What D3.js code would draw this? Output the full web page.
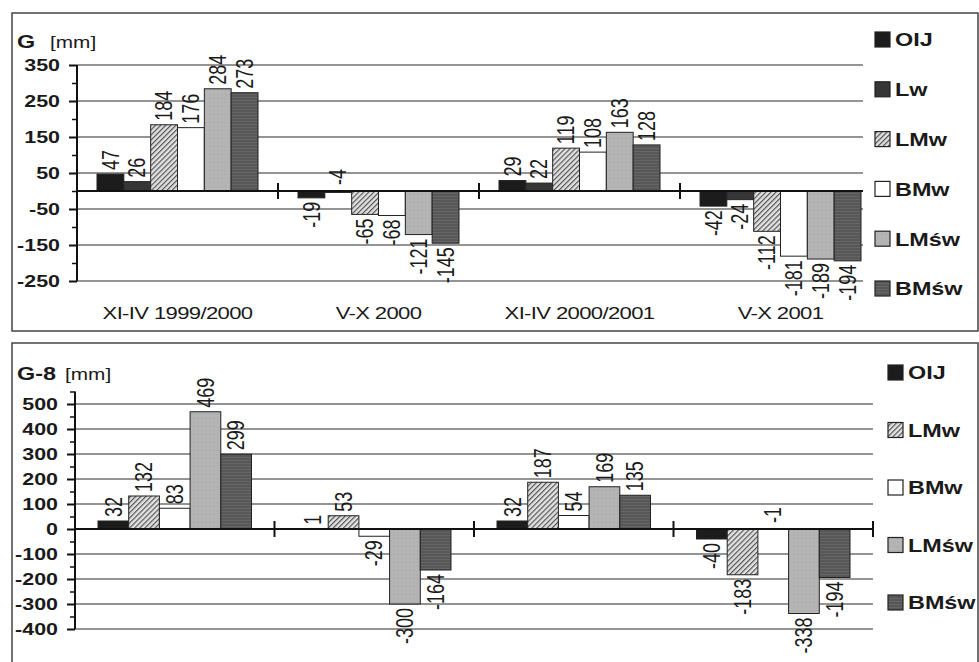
<!DOCTYPE html>
<html lang="pl">
<head>
<meta charset="UTF-8">
<title>G / G-8</title>
<script src="https://cdn.jsdelivr.net/npm/d3@7"></script>
<style>
    body { margin: 0; background: #fff; }
    svg text { font-family: "Liberation Sans", Arial, sans-serif; fill: #1a1a1a; }
    .tick text { font-size: 16.5px; font-weight: bold; }
    .lbl { font-size: 18px; }
    .cat { font-size: 17px; letter-spacing: -0.5px; }
    .leg { font-size: 18px; font-weight: bold; }
</style>
</head>
<body>
<svg id="chart" width="979" height="662"></svg>
<script>
    // kategorie (półrocza)
    const categories = ["XI-IV 1999/2000", "V-X 2000", "XI-IV 2000/2001", "V-X 2001"];

    // wykres G
    const seriesG = ["OIJ", "Lw", "LMw", "BMw", "LMśw", "BMśw"];
    const valuesG = [
        [47, -19, 29, -42],      // OIJ
        [26, -4, 22, -24],       // Lw
        [184, -65, 119, -112],   // LMw
        [176, -68, 108, -181],   // BMw
        [284, -121, 163, -189],  // LMśw
        [273, -145, 128, -194]   // BMśw
    ];
    const ticksG = [350, 250, 150, 50, -50, -150, -250];
    const minorG = [300, 200, 100, 0, -100, -200];

    // wykres G-8
    const seriesG8 = ["OIJ", "LMw", "BMw", "LMśw", "BMśw"];
    const valuesG8 = [
        [32, 1, 32, -40],        // OIJ
        [132, 53, 187, -183],    // LMw
        [83, -29, 54, -1],       // BMw
        [469, -300, 169, -338],  // LMśw
        [299, -164, 135, -194]   // BMśw
    ];
    const ticksG8 = [500, 400, 300, 200, 100, 0, -100, -200, -300, -400];
    const minorG8 = [550, 450, 350, 250, 150, 50, -50, -150, -250, -350];

    const SX = 1.3; // skan jest rozciągnięty w poziomie

    const fills = {
        "OIJ": "#1c1c1c",
        "Lw": "#363636",
        "LMw": "url(#hatch)",
        "BMw": "#ffffff",
        "LMśw": "url(#light)",
        "BMśw": "url(#dark)"
    };

    const svg = d3.select('#chart');
    const defs = svg.append('defs');

    let hatch = defs.append('pattern')
        .attr('id', 'hatch')
        .attr('patternUnits', 'userSpaceOnUse')
        .attr('width', 3.6).attr('height', 10)
        .attr('patternTransform', 'rotate(45)');
    hatch.append('rect').attr('width', 3.6).attr('height', 10).attr('fill', '#e2e2e2');
    hatch.append('line').attr('x1', 0.6).attr('x2', 0.6).attr('y1', 0).attr('y2', 10)
        .attr('stroke', '#555').attr('stroke-width', 1.2);

    let light = defs.append('pattern')
        .attr('id', 'light')
        .attr('patternUnits', 'userSpaceOnUse')
        .attr('width', 4).attr('height', 4);
    light.append('rect').attr('width', 4).attr('height', 4).attr('fill', '#b4b4b4');
    light.append('rect').attr('x', 1).attr('y', 2).attr('width', 1).attr('height', 1).attr('fill', '#a6a6a6');

    let dark = defs.append('pattern')
        .attr('id', 'dark')
        .attr('patternUnits', 'userSpaceOnUse')
        .attr('width', 4).attr('height', 3);
    dark.append('rect').attr('width', 4).attr('height', 3).attr('fill', '#575757');
    dark.append('line').attr('x1', 0).attr('x2', 4).attr('y1', 1.5).attr('y2', 1.5)
        .attr('stroke', '#696969').attr('stroke-width', 0.8);

    function stretched(g, x, y, txt, cls, anchor) {
        return g.append('text')
            .attr('class', cls)
            .attr('transform', 'translate(' + x + ',' + y + ') scale(' + SX + ',1)')
            .attr('text-anchor', anchor || 'start')
            .text(txt);
    }

    function drawPanel(p) {
        let g = svg.append('g');

        g.append('rect')
            .attr('x', p.box[0]).attr('y', p.box[1])
            .attr('width', p.box[2]).attr('height', p.box[3])
            .attr('fill', 'none').attr('stroke', '#444').attr('stroke-width', 1.5);

        // tytuł
        stretched(g, 17, p.titleY, p.title, '', 'start')
            .style('font-size', '18px').style('font-weight', 'bold');
        stretched(g, p.unitX, p.titleY, '[mm]', '', 'start')
            .style('font-size', '16px');

        let x0 = d3.scaleBand()
            .domain(categories)
            .range([p.left, p.left + p.band * 4]);

        let x1 = d3.scaleBand()
            .domain(p.series)
            .range([p.pad, p.band - p.pad]);

        let y = d3.scaleLinear()
            .domain(p.domain)
            .range([p.bottom, p.top]);

        // linie siatki
        g.selectAll('.grid')
            .data(p.ticks.filter(d => d !== 0))
            .enter().append('line')
            .attr('x1', p.left).attr('x2', p.gridEnd)
            .attr('y1', d => y(d)).attr('y2', d => y(d))
            .attr('stroke', '#2a2a2a').attr('stroke-width', 1.2);

        // słupki
        let rows = [];
        p.series.forEach((s, i) => {
            categories.forEach((c, j) => {
                rows.push({ s: s, c: c, v: p.values[i][j] });
            });
        });

        g.selectAll('.bar')
            .data(rows)
            .enter().append('rect')
            .attr('x', d => x0(d.c) + x1(d.s))
            .attr('y', d => y(Math.max(0, d.v)))
            .attr('width', x1.bandwidth())
            .attr('height', d => Math.abs(y(d.v) - y(0)))
            .attr('fill', d => fills[d.s])
            .attr('stroke', '#222')
            .attr('stroke-width', 1);

        // etykiety wartości
        g.selectAll('.lbl')
            .data(rows)
            .enter().append('text')
            .attr('class', 'lbl')
            .attr('dy', '.35em')
            .attr('text-anchor', d => (d.v >= 0 || d.v > -5) ? 'start' : 'end')
            .attr('transform', d => {
                let cx = x0(d.c) + x1(d.s) + x1.bandwidth() / 2;
                let yy;
                if (d.v >= 0) yy = y(d.v) - 4;
                else if (d.v > -5) yy = y(0) - 6;
                else yy = y(d.v) + 4;
                return 'translate(' + cx + ',' + yy + ') scale(' + SX + ',1) rotate(-90)';
            })
            .text(d => String(d.v));

        // oś Y
        let yAxis = g.append('g')
            .attr('transform', 'translate(' + p.left + ',0)')
            .call(d3.axisLeft(y).tickValues(p.ticks).tickSize(8).tickFormat(d => String(d)));
        yAxis.select('.domain').remove();
        yAxis.selectAll('.tick line').attr('stroke', '#111').attr('stroke-width', 2);
        yAxis.selectAll('.tick text')
            .attr('x', 0)
            .attr('transform', 'translate(-17,0) scale(' + SX + ',1)');

        g.append('g')
            .attr('transform', 'translate(' + p.left + ',0)')
            .call(d3.axisLeft(y).tickValues(p.minor).tickSize(5).tickFormat(''))
            .call(a => a.select('.domain').remove())
            .selectAll('.tick line').attr('stroke', '#111').attr('stroke-width', 1.5);

        g.append('line')
            .attr('x1', p.left).attr('x2', p.left)
            .attr('y1', y(p.domain[1])).attr('y2', y(p.domain[0]))
            .attr('stroke', '#111').attr('stroke-width', 2);

        // oś kategorii (zero)
        g.append('line')
            .attr('x1', p.left).attr('x2', p.gridEnd)
            .attr('y1', y(0)).attr('y2', y(0))
            .attr('stroke', '#111').attr('stroke-width', 2);

        let marks = categories.slice(1).map(c => x0(c));
        if (p.endTick) marks.push(x0.range()[1]);
        g.selectAll('.ctick')
            .data(marks)
            .enter().append('line')
            .attr('x1', d => d).attr('x2', d => d)
            .attr('y1', y(0) - 8).attr('y2', y(0) + 8)
            .attr('stroke', '#111').attr('stroke-width', 2);

        if (p.catY) {
            categories.forEach(c => {
                stretched(g, x0(c) + x0.bandwidth() / 2, p.catY, c, 'cat', 'middle');
            });
        }

        // legenda
        p.series.forEach((s, i) => {
            let ly = p.legY + i * p.legStep;
            g.append('rect')
                .attr('x', p.legX).attr('y', ly - 8)
                .attr('width', 15).attr('height', 15)
                .attr('fill', fills[s])
                .attr('stroke', '#222').attr('stroke-width', 1.2);
            stretched(g, p.legX + 20, ly, s, 'leg', 'start').attr('dy', '.35em');
        });
    }

    drawPanel({
        box: [12, 13, 966, 318],
        title: 'G', titleY: 48, unitX: 50,
        series: seriesG, values: valuesG,
        ticks: ticksG, minor: minorG,
        domain: [-250, 350], top: 65, bottom: 281,
        left: 77, band: 201, pad: 20, gridEnd: 863, endTick: false,
        catY: 319,
        legX: 875, legY: 40, legStep: 49.8
    });

    drawPanel({
        box: [12, 343, 966, 340],
        title: 'G-8', titleY: 380, unitX: 65,
        series: seriesG8, values: valuesG8,
        ticks: ticksG8, minor: minorG8,
        domain: [-400, 550], top: 391.5, bottom: 629,
        left: 75, band: 199.5, pad: 23, gridEnd: 873, endTick: true,
        catY: null,
        legX: 888, legY: 373, legStep: 57.5
    });
</script>
</body>
</html>
